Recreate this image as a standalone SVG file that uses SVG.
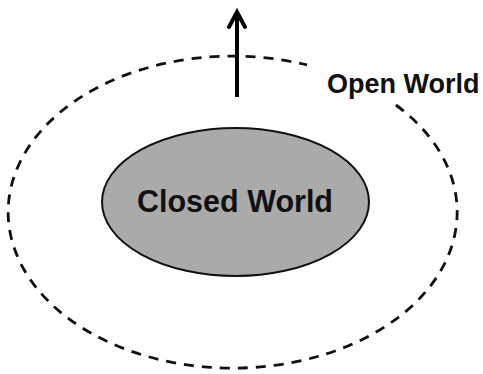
<svg xmlns="http://www.w3.org/2000/svg" width="483" height="374" viewBox="0 0 483 374">
<style>
.lbl{font-family:"Liberation Sans",Arial,sans-serif;font-weight:bold;fill:#111}
.dash{fill:none;stroke:#111;stroke-width:2.8;stroke-dasharray:10 8}
</style>
<rect width="483" height="374" fill="#fff"/>
<g id="open-world">
<path class="dash" d="M 395.9 105 A 224.5 156 0 1 1 307 64.9"/>
<text class="lbl" x="327" y="93" font-size="27">Open World</text>
</g>
<g id="closed-world">
<ellipse cx="235.5" cy="202" rx="133.5" ry="74" fill="#aaaaaa" stroke="#111" stroke-width="2"/>
<text class="lbl" x="235" y="212" font-size="30.5" text-anchor="middle">Closed World</text>
</g>
<g id="connectors">
<line x1="237" y1="97" x2="237" y2="12" stroke="#000" stroke-width="4"/>
<polyline points="229,27 237,12 245,27" fill="none" stroke="#000" stroke-width="4" stroke-linecap="round" stroke-linejoin="miter"/>
</g>
</svg>
